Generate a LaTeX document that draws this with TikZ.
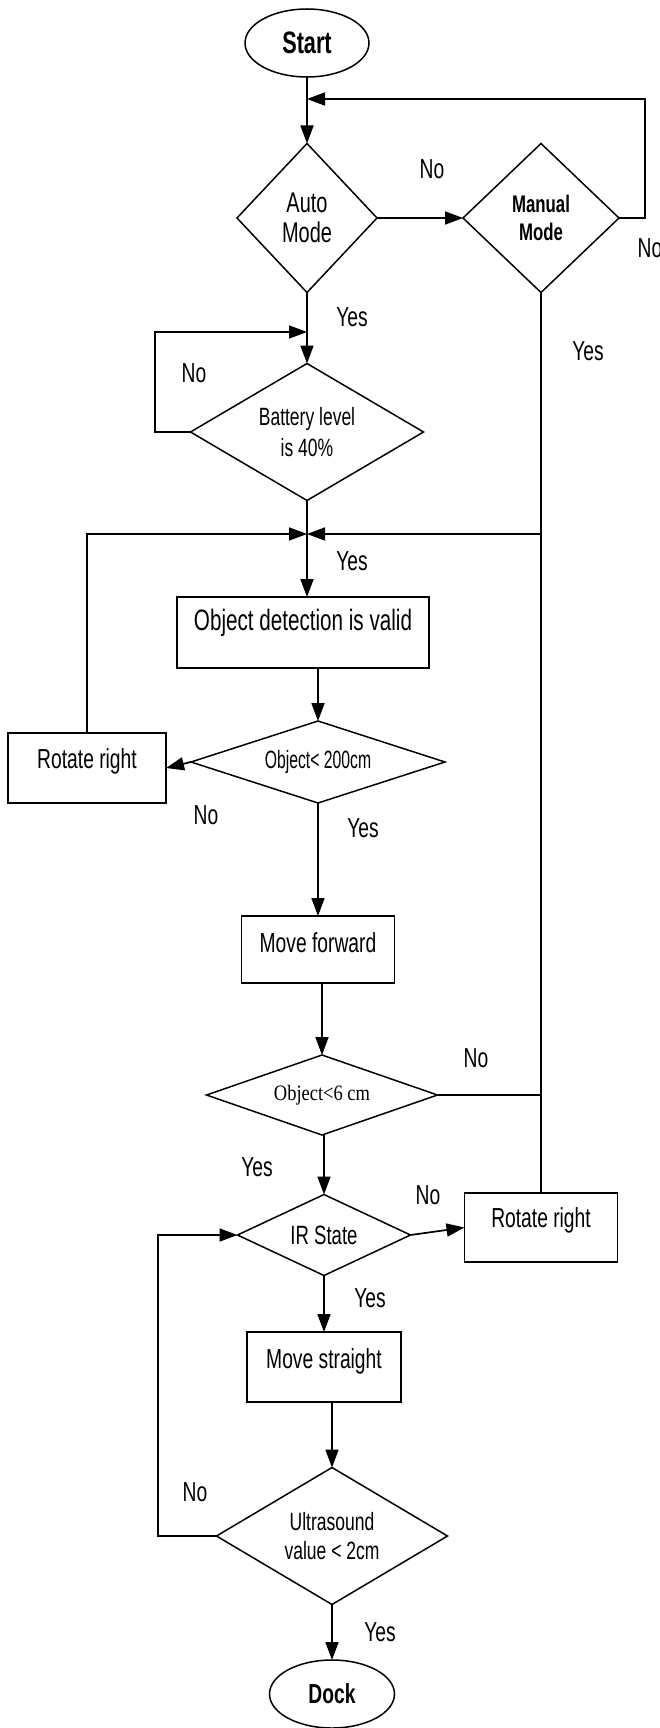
\documentclass[tikz,border=0pt]{standalone}
\usepackage{fontspec}
\newfontfamily\nf{Liberation Sans}[FakeStretch=0.7]
\newfontfamily\nfc{Liberation Sans}[FakeStretch=0.63]
\newfontfamily\tf{Liberation Serif}[FakeStretch=0.84]
\usetikzlibrary{shapes.geometric,arrows.meta}
\begin{document}
\begin{tikzpicture}[x=1pt,y=-1pt,
  every node/.style={inner sep=0pt, outer sep=0pt, font=\nf\fontsize{27.5}{32}\selectfont},
  shp/.style={draw, line width=1.5pt},
  dec/.style={shp, diamond, align=center},
  term/.style={shp, ellipse, font=\nf\bfseries\fontsize{31}{34}\selectfont},
  proc/.style={shp, rectangle, text height=20pt, text depth=20pt},
  conn/.style={line width=1.7pt},
  arr/.style={conn, -{Triangle[length=18pt,width=13pt]}},
]
\useasboundingbox[fill=white] (0,0) rectangle (659,1728);

% shapes
\node[term, minimum width=124pt, minimum height=68pt] (start) at (307,43) {Start};
\node[dec, minimum width=140pt, minimum height=149pt, aspect=0.94, font=\nf\fontsize{28.5}{30}\selectfont] (auto) at (307,218) {Auto\\Mode};
\node[dec, minimum width=156pt, minimum height=149pt, aspect=1.05, font=\nf\bfseries\fontsize{24}{28}\selectfont] (manual) at (541,218) {Manual\\Mode};
\node[dec, minimum width=233pt, minimum height=137pt, aspect=1.7, font=\nf\fontsize{25}{31}\selectfont] (battery) at (307,432) {Battery level\\is 40\%};
\node[proc, minimum width=252pt, minimum height=71pt, text depth=25pt, font=\nf\fontsize{29.5}{32}\selectfont] (objdet) at (303,632.5) {Object detection is valid};
\node[dec, minimum width=254pt, minimum height=82pt, aspect=3.1, font=\nfc\fontsize{25}{28}\selectfont] (obj200) at (318,762) {Object< 200cm};
\node[proc, minimum width=158pt, minimum height=70pt] (rotL) at (87,768) {Rotate right};
\node[proc, minimum width=153pt, minimum height=67pt, text depth=15pt] (movef) at (318,949.5) {Move forward};
\node[dec, minimum width=231pt, minimum height=80pt, aspect=2.9, font=\tf\fontsize{22}{24}\selectfont] (obj6) at (322,1095) {Object<6 cm};
\node[dec, minimum width=173pt, minimum height=81pt, aspect=2.1, font=\nf\fontsize{26.5}{28}\selectfont] (ir) at (324,1235) {IR State};
\node[proc, minimum width=153pt, minimum height=69pt] (rotR) at (541,1227.5) {Rotate right};
\node[proc, minimum width=154pt, minimum height=70pt, text depth=18pt] (moves) at (324,1367) {Move straight};
\node[dec, minimum width=231pt, minimum height=137pt, aspect=1.7, font=\nf\fontsize{25}{29}\selectfont] (ultra) at (332,1536) {Ultrasound\\value < 2cm};
\node[term, minimum width=125pt, minimum height=68pt, font=\nf\bfseries\fontsize{27.5}{30}\selectfont] (dock) at (332,1694) {Dock};

% helper coordinates
\coordinate (j1) at (307,99);
\coordinate (rtop) at (645,99);
\coordinate (bl) at (155,332);
\coordinate (j3) at (307,332);
\coordinate (j2) at (307,534);
\coordinate (ll) at (158,1235);

% connectors
\draw[arr] (start.south) -- (auto.north);
\draw[arr] (manual.east) -| (rtop) -- (j1);
\draw[arr] (auto.east) -- (manual.west);
\draw[arr] (auto.south) -- (battery.north);
\draw[arr] (battery.west) -| (bl) -- (j3);
\draw[arr] (battery.south) -- (battery.south |- objdet.north);
\draw[arr] (rotL.north) |- (j2);
\draw[arr] (manual.south) |- (j2);
\draw[conn] (rotR.north) -- (manual.south);
\draw[conn] (obj6.east) -- (obj6.east -| rotR.north);
\draw[arr] (obj200.north |- objdet.south) -- (obj200.north);
\draw[arr] (obj200.west) -- (rotL.east);
\draw[arr] (obj200.south) -- (movef.north);
\draw[arr] (obj6.north |- movef.south) -- (obj6.north);
\draw[arr] (ir.north |- obj6.south) -- (ir.north);
\draw[arr] (ir.east) -- (rotR.west);
\draw[arr] (ir.south) -- (moves.north);
\draw[arr] (ultra.north |- moves.south) -- (ultra.north);
\draw[arr] (ultra.west) -| (ll) -- (ir.west);
\draw[arr] (ultra.south) -- (dock.north);

% labels
\node (l1) at (432,169) {No};
\node (l2) at (650,248) {No};
\node (l3) at (352,317) {Yes};
\node (l4) at (194,373) {No};
\node (l5) at (588,351) {Yes};
\node (l6) at (352,561) {Yes};
\node (l7) at (206,815) {No};
\node (l8) at (363,828) {Yes};
\node (l9) at (476,1058) {No};
\node (l10) at (257,1167) {Yes};
\node (l11) at (428,1195) {No};
\node (l12) at (370,1298) {Yes};
\node (l13) at (195,1492) {No};
\node (l14) at (380,1632) {Yes};
\end{tikzpicture}
\end{document}
